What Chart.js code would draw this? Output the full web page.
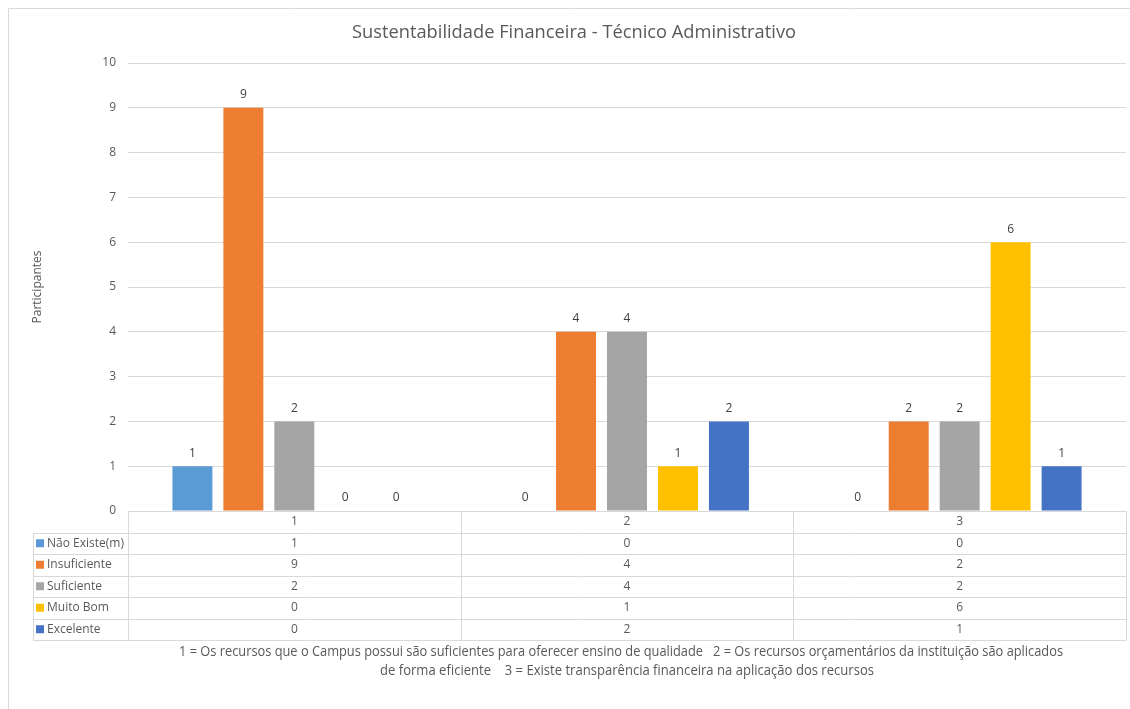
<!DOCTYPE html>
<html>
<head>
<meta charset="utf-8">
<title>Sustentabilidade Financeira</title>
<script src="https://cdn.jsdelivr.net/npm/chart.js@4.4.1/dist/chart.umd.min.js"></script>
<style>
    html, body { margin: 0; padding: 0; background: #fff; }
    #wrap { position: relative; width: 1130px; height: 709px; }
</style>
</head>
<body>
<div id="wrap">
    <canvas id="myChart" width="1130" height="709"></canvas>
</div>
<script>
// Data
var categorias = ['1', '2', '3'];
var series = ['Não Existe(m)', 'Insuficiente', 'Suficiente', 'Muito Bom', 'Excelente'];
var naoExiste = [1, 0, 0];
var insuficiente = [9, 4, 2];
var suficiente = [2, 4, 2];
var muitoBom = [0, 1, 6];
var excelente = [0, 2, 1];
var yTicks = [0, 1, 2, 3, 4, 5, 6, 7, 8, 9, 10];
var titulo = 'Sustentabilidade Financeira - Técnico Administrativo';
var rodape = [
    '1 = Os recursos que o Campus possui são suficientes para oferecer ensino de qualidade   2 = Os recursos orçamentários da instituição são aplicados',
    'de forma eficiente    3 = Existe transparência financeira na aplicação dos recursos'
];

var cores = ['#5B9BD5', '#ED7D31', '#A5A5A5', '#FFC000', '#4472C4'];
var valores = [naoExiste, insuficiente, suficiente, muitoBom, excelente];
var fonte = '"Open Sans", sans-serif';
var cinzaTexto = '#595959';
var cinzaLinha = '#d9d9d9';

var datasets = series.map(function(nome, i) {
    return {
        label: nome,
        data: valores[i],
        backgroundColor: cores[i],
        borderWidth: 0,
        categoryPercentage: 0.766,
        barPercentage: 0.784
    };
});

// frame + title
var moldura = {
    id: 'moldura',
    beforeDraw: function(chart) {
        var ctx = chart.ctx;
        ctx.save();
        ctx.strokeStyle = cinzaLinha;
        ctx.lineWidth = 1;
        ctx.beginPath();
        ctx.moveTo(8.5, 709);
        ctx.lineTo(8.5, 8.5);
        ctx.lineTo(1130, 8.5);
        ctx.stroke();
        ctx.fillStyle = cinzaTexto;
        ctx.font = '19px ' + fonte;
        ctx.textAlign = 'center';
        ctx.textBaseline = 'middle';
        ctx.fillText(titulo, 574, 33, 444);
        ctx.restore();
    }
};

// value labels above bars
var rotulos = {
    id: 'rotulos',
    afterDatasetsDraw: function(chart) {
        var ctx = chart.ctx;
        ctx.save();
        ctx.fillStyle = '#404040';
        ctx.font = '12px ' + fonte;
        ctx.textAlign = 'center';
        ctx.textBaseline = 'bottom';
        chart.data.datasets.forEach(function(ds, i) {
            var meta = chart.getDatasetMeta(i);
            meta.data.forEach(function(bar, j) {
                ctx.fillText(String(ds.data[j]), bar.x, bar.y - 7);
            });
        });
        ctx.restore();
    }
};

// data table under the chart
var tabela = {
    id: 'tabela',
    afterDraw: function(chart) {
        var ctx = chart.ctx;
        var area = chart.chartArea;
        var xs = chart.scales.x;
        var topo = area.bottom;
        var alt = 21.5;
        var esq = 33;
        var n = categorias.length;
        var passo = (area.right - area.left) / n;

        ctx.save();
        ctx.strokeStyle = cinzaLinha;
        ctx.lineWidth = 1;
        ctx.beginPath();
        // horizontal lines
        for (var r = 0; r <= series.length + 1; r++) {
            var y = Math.round(topo + r * alt) + 0.5;
            ctx.moveTo(r === 0 ? area.left : esq, y);
            ctx.lineTo(area.right, y);
        }
        // vertical lines
        var fundo = Math.round(topo + (series.length + 1) * alt) + 0.5;
        ctx.moveTo(esq + 0.5, Math.round(topo + alt) + 0.5);
        ctx.lineTo(esq + 0.5, fundo);
        for (var c = 0; c <= n; c++) {
            var x = Math.round(area.left + c * passo) + 0.5;
            ctx.moveTo(x, topo);
            ctx.lineTo(x, fundo);
        }
        ctx.stroke();

        ctx.font = '12px ' + fonte;
        ctx.textBaseline = 'middle';
        ctx.fillStyle = cinzaTexto;
        ctx.textAlign = 'center';
        categorias.forEach(function(cat, j) {
            var cx = xs.getPixelForValue(j);
            ctx.fillText(cat, cx, topo + alt / 2);
        });
        series.forEach(function(nome, i) {
            var cy = topo + (i + 1) * alt + alt / 2;
            ctx.fillStyle = cores[i];
            ctx.fillRect(esq + 3, cy - 4, 8, 8);
            ctx.fillStyle = cinzaTexto;
            ctx.textAlign = 'left';
            ctx.fillText(nome, esq + 14, cy, area.left - esq - 17);
            ctx.textAlign = 'center';
            valores[i].forEach(function(v, j) {
                ctx.fillText(String(v), xs.getPixelForValue(j), cy);
            });
        });

        // footnote (axis title)
        var meio = (area.left + area.right) / 2;
        ctx.font = '14px ' + fonte;
        ctx.fillText(rodape[0], meio - 6, 652, 884);
        ctx.fillText(rodape[1], meio, 671, 494);
        ctx.restore();
    }
};

var config = {
    type: 'bar',
    data: {
        labels: categorias,
        datasets: datasets
    },
    options: {
        responsive: false,
        animation: false,
        layout: {
            padding: { top: 63, right: 4, bottom: 198, left: 0 }
        },
        plugins: {
            legend: { display: false },
            title: { display: false },
            tooltip: { enabled: false }
        },
        scales: {
            x: {
                display: false
            },
            y: {
                min: 0,
                max: 10,
                afterFit: function(scale) {
                    scale.width = 128;
                },
                afterBuildTicks: function(scale) {
                    scale.ticks = yTicks.map(function(v) { return { value: v }; });
                },
                border: { display: false },
                grid: {
                    color: cinzaLinha,
                    drawTicks: false
                },
                ticks: {
                    padding: 12,
                    color: cinzaTexto,
                    font: { family: fonte, size: 12 }
                },
                title: {
                    display: true,
                    text: 'Participantes',
                    color: cinzaTexto,
                    font: { family: fonte, size: 12 },
                    padding: { top: 30, bottom: 0 }
                }
            }
        }
    },
    plugins: [moldura, rotulos, tabela]
};

var myChart = new Chart(
    document.getElementById('myChart'),
    config
);
</script>
</body>
</html>
